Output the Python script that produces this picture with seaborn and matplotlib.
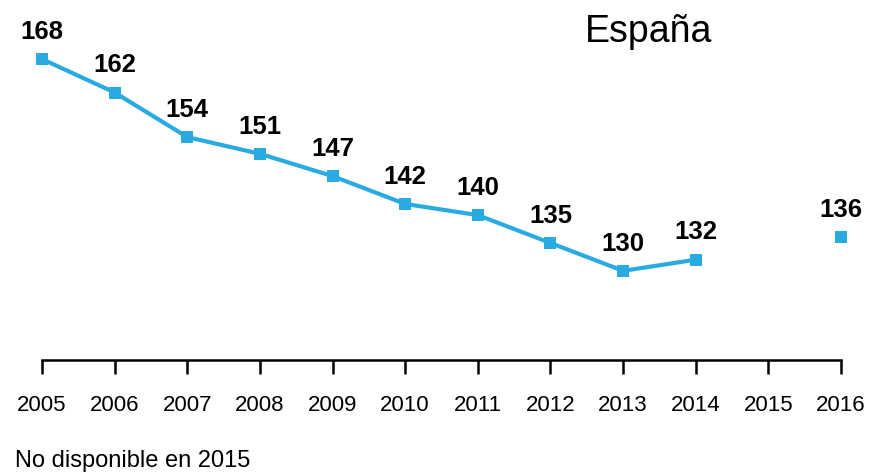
import matplotlib
matplotlib.use("Agg")
import matplotlib.pyplot as plt
import seaborn as sns
import pandas as pd

# data
years = [2005, 2006, 2007, 2008, 2009, 2010, 2011, 2012, 2013, 2014]
values = [168, 162, 154, 151, 147, 142, 140, 135, 130, 132]
extra_years = [2016]
extra_values = [136]
tick_years = list(range(2005, 2017))

title = "España"
note = "No disponible en 2015"
blue = "#29abe2"

sns.set_theme(style="white")
plt.rcParams["font.family"] = ["Liberation Sans", "DejaVu Sans"]
plt.rcParams["text.color"] = "black"
plt.rcParams["xtick.color"] = "black"

df = pd.DataFrame({"year": years, "value": values})
df_extra = pd.DataFrame({"year": extra_years, "value": extra_values})

fig = plt.figure(figsize=(8.83, 4.74), dpi=100)
ax = fig.add_axes([42 / 883, 114 / 474, 799 / 883, 360 / 474])

sns.lineplot(data=df, x="year", y="value", ax=ax, color=blue, linewidth=3,
             marker="s", markersize=8, markeredgewidth=0, clip_on=False)
sns.scatterplot(data=df_extra, x="year", y="value", ax=ax, color=blue,
                marker="s", s=70, linewidth=0, clip_on=False)

# value labels above each point
for x, y in zip(years + extra_years, values + extra_values):
    ax.annotate(str(y), (x, y), xytext=(0, 11), textcoords="offset points",
                ha="center", va="bottom", fontsize=18.5, fontweight="bold",
                color="black")

ax.set_xlim(2005, 2016)
ax.set_ylim(114, 178.6)
ax.set_xticks(tick_years)
ax.set_xticklabels([str(t) for t in tick_years], fontsize=16)
ax.set_yticks([])
ax.set_xlabel("")
ax.set_ylabel("")

for side in ["top", "right", "left"]:
    ax.spines[side].set_visible(False)
ax.spines["bottom"].set_color("black")
ax.spines["bottom"].set_linewidth(1.8)
ax.tick_params(axis="x", direction="out", length=10, width=1.8, color="black",
               labelcolor="black", pad=15, bottom=True)

fig.text(712 / 883, 1 - 32 / 474, title, ha="right", va="center", fontsize=27,
         color="black")
fig.text(15 / 883, 1 - 461 / 474, note, ha="left", va="center", fontsize=17,
         color="black")

fig.savefig("out.png", dpi=100, facecolor="white")
